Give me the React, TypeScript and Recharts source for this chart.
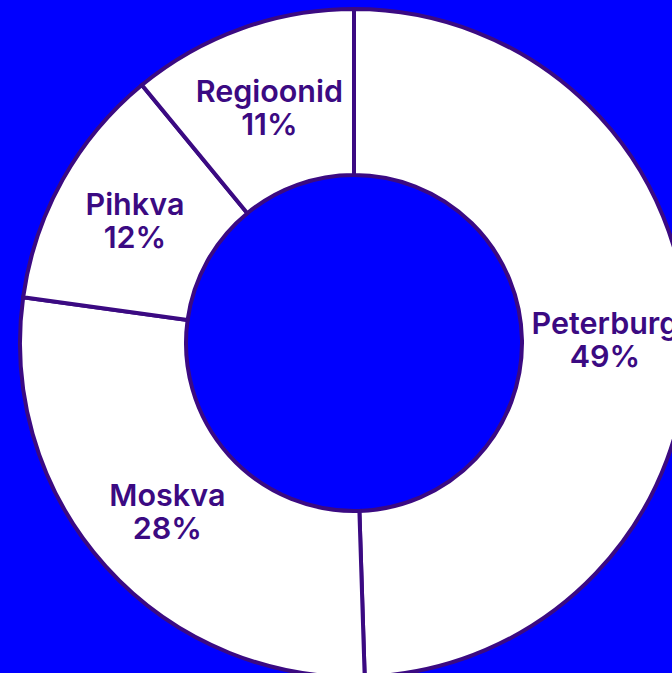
import React from "react";
import { PieChart, Pie, Cell } from "recharts";

const regions = ["Peterburg", "Moskva", "Pihkva", "Regioonid"];
const shares = [49.49, 27.7, 11.86, 10.95];

const data = regions.map((name, i) => ({ name, value: shares[i] }));

const PURPLE = "#3b0a82";
const RADIAN = Math.PI / 180;

const renderLabel = (props: any) => {
  const { cx, cy, midAngle, innerRadius, outerRadius, percent, name } = props;
  const r = (innerRadius + outerRadius) / 2;
  const x = cx + r * Math.cos(-midAngle * RADIAN);
  const y = cy + r * Math.sin(-midAngle * RADIAN);
  return (
    <text
      x={x}
      y={y}
      textAnchor="middle"
      fill={PURPLE}
      fontFamily="Inter, sans-serif"
      fontWeight={600}
      fontSize={30.5}
    >
      <tspan x={x} dy={-5}>{name}</tspan>
      <tspan x={x} dy={33}>{`${Math.round(percent * 100)}%`}</tspan>
    </text>
  );
};

export default function App() {
  return (
    <div
      style={{
        position: "fixed",
        left: 0,
        top: 0,
        width: 672,
        height: 673,
        background: "#0000ff",
        overflow: "hidden",
      }}
    >
      <PieChart width={672} height={673} margin={{ top: 0, right: 0, bottom: 0, left: 0 }}>
        <Pie
          data={data}
          dataKey="value"
          nameKey="name"
          cx={354}
          cy={343}
          innerRadius={168}
          outerRadius={334}
          startAngle={90}
          endAngle={-270}
          stroke={PURPLE}
          strokeWidth={4}
          label={renderLabel}
          labelLine={false}
          isAnimationActive={false}
        >
          {data.map((d) => (
            <Cell key={d.name} fill="#ffffff" />
          ))}
        </Pie>
      </PieChart>
    </div>
  );
}
